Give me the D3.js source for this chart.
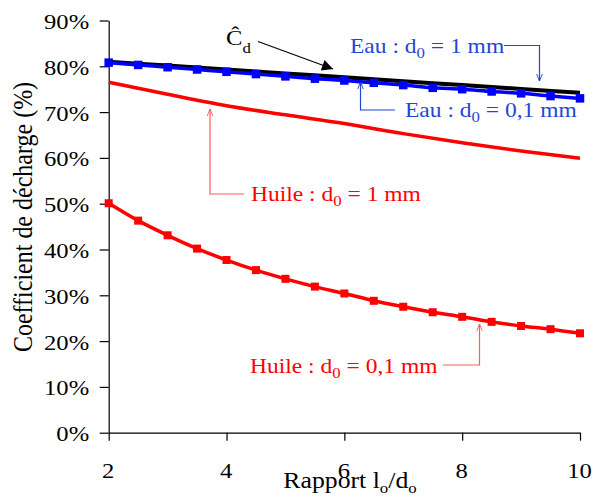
<!DOCTYPE html>
<html><head><meta charset="utf-8">
<script src="https://cdn.jsdelivr.net/npm/d3@7"></script>
<style>
html,body{margin:0;padding:0;background:#fff;}
svg{display:block;}
</style></head>
<body>
<svg id="c" width="594" height="501"></svg>
<script>
// ---- data ----
const xMarkers = [2,2.5,3,3.5,4,4.5,5,5.5,6,6.5,7,7.5,8,8.5,9,9.5,10];
const eau01 = [80.8,80.3,79.8,79.3,78.8,78.3,77.8,77.3,76.9,76.4,75.9,75.3,75.0,74.5,74.1,73.5,73.0];
const huile01 = [50.1,46.3,43.1,40.2,37.7,35.5,33.6,31.9,30.4,28.8,27.5,26.3,25.3,24.2,23.3,22.6,21.7];
const xLines = [2,3,4,5,6,7,8,9,10];
const cdHat = [81.0,80.15,79.3,78.45,77.6,76.75,75.9,75.05,74.2];
const huile1 = [76.5,73.9,71.4,69.4,67.5,65.3,63.3,61.5,59.9];
const xTicks = [2,4,6,8,10];
const yTicks = [0,10,20,30,40,50,60,70,80,90];

// pick an installed Times-like font
function pickFont(cands){
  const c = document.createElement("canvas").getContext("2d");
  const probe = "Coefficient de décharge 0123456789%";
  c.font = "20px monospace"; const base = c.measureText(probe).width;
  for (const f of cands){ c.font = `20px "${f}", monospace`; if (Math.abs(c.measureText(probe).width-base)>0.5) return `"${f}", serif`; }
  return "serif";
}
const FONT = pickFont(["Liberation Serif","Times New Roman","Times","Nimbus Roman","Tinos","DejaVu Serif"]);

const SX = 1.12; // horizontal text stretch of the reference
const svg = d3.select("#c").style("font-family",FONT);
const x = d3.scaleLinear().domain([2,10]).range([108.7,580]);
const y = d3.scaleLinear().domain([0,90]).range([432.7,20.5]);

// axes
const gy = svg.append("g").attr("transform",`translate(${x(2)},0)`)
  .call(d3.axisLeft(y).tickValues(yTicks).tickSize(9).tickSizeOuter(0).tickFormat(d=>d+"%"));
const gx = svg.append("g").attr("transform",`translate(0,${y(0)})`)
  .call(d3.axisBottom(x).tickValues(xTicks).tickSize(8).tickSizeOuter(0).tickFormat(d3.format("d")));
[gx,gy].forEach(g=>{
  g.attr("font-family",null).attr("font-size",null);
  g.selectAll("path,line").attr("stroke","#000").attr("stroke-width",1.2);
  g.selectAll("text").attr("fill","#000").style("font-family",FONT);
});
gy.selectAll(".tick text").attr("x",null).attr("dy",null)
  .style("font-size","22px").attr("text-anchor","end")
  .attr("transform",`translate(-19.5,8) scale(${SX},1)`);
gx.selectAll(".tick text").attr("y",null).attr("dy",null)
  .style("font-size","22px").attr("text-anchor","middle")
  .attr("transform",`translate(-1,45.5) scale(${SX},1)`);

// lines
const lineM = (xs)=>d3.line().x((d,i)=>x(xs[i])).y(d=>y(d)).curve(d3.curveMonotoneX);
svg.append("path").datum(cdHat).attr("d",lineM(xLines)).attr("fill","none").attr("stroke","#000").attr("stroke-width",4);
svg.append("path").datum(eau01).attr("d",lineM(xMarkers)).attr("fill","none").attr("stroke","#0000ff").attr("stroke-width",3.5);
svg.append("path").datum(huile1).attr("d",lineM(xLines)).attr("fill","none").attr("stroke","#ff0000").attr("stroke-width",3.5);
svg.append("path").datum(huile01).attr("d",lineM(xMarkers)).attr("fill","none").attr("stroke","#ff0000").attr("stroke-width",3.5);
const msB = 8.5, msR = 8;
svg.append("g").selectAll("rect").data(eau01).join("rect")
  .attr("x",(d,i)=>x(xMarkers[i])-msB/2).attr("y",d=>y(d)-msB/2).attr("width",msB).attr("height",msB).attr("fill","#0000ff");
svg.append("g").selectAll("rect").data(huile01).join("rect")
  .attr("x",(d,i)=>x(xMarkers[i])-msR/2).attr("y",d=>y(d)-msR/2).attr("width",msR).attr("height",msR).attr("fill","#ff0000");

// axis titles
svg.append("text").attr("text-anchor","middle").style("font-size","24px")
  .attr("transform",`translate(32,217) scale(${SX},1) rotate(-90)`)
  .text("Coefficient de décharge (%)");
const xt = svg.append("text").attr("text-anchor","middle").style("font-size","23px")
  .attr("transform",`translate(350,488) scale(${SX},1)`);
xt.append("tspan").text("Rapport l");
xt.append("tspan").attr("dy",5).style("font-size","15px").text("o");
xt.append("tspan").attr("dy",-5).text("/d");
xt.append("tspan").attr("dy",5).style("font-size","15px").text("o");

// defs: arrowheads
const defs = svg.append("defs");
function openArrow(id,color){
  defs.append("marker").attr("id",id).attr("viewBox","0 0 10 10").attr("refX",10).attr("refY",5)
    .attr("markerWidth",7).attr("markerHeight",7).attr("markerUnits","userSpaceOnUse").attr("orient","auto")
    .append("path").attr("d","M0,1 L10,5 L0,9").attr("fill","none").attr("stroke",color).attr("stroke-width",1.3);
}
openArrow("ab","#1a3fd0"); openArrow("ar","#ff5a5a");
defs.append("marker").attr("id","ak").attr("viewBox","0 0 10 10").attr("refX",10).attr("refY",5)
  .attr("markerWidth",14).attr("markerHeight",11).attr("markerUnits","userSpaceOnUse").attr("orient","auto")
  .append("path").attr("d","M0,0 L10,5 L0,10 Z").attr("fill","#000");

function label(xp,yp,parts,color,size){
  const t = svg.append("text").attr("transform",`translate(${xp},${yp}) scale(${SX},1)`)
    .style("font-size",size+"px").attr("fill",color);
  parts.forEach(p=>{
    t.append("tspan").attr("dy",p.sub? 5 : (p.after? -5:0)).style("font-size",p.sub? "15px":null).text(p.t);
  });
  return t;
}
function connector(pts,color,marker){
  svg.append("path").attr("d",d3.line()(pts)).attr("fill","none").attr("stroke",color)
    .attr("stroke-width",1.2).attr("marker-end",`url(#${marker})`);
}
const blueT = "#1f47d6", redT = "#ff0000";
const labParts = (fluid,dval)=>[{t:fluid+"  : d"},{t:"0",sub:true},{t:" = "+dval+" mm",after:true}];

// Cd hat
const ch = svg.append("text").attr("transform",`translate(226,45) scale(${SX},1)`).style("font-size","22px").attr("fill","#000");
ch.append("tspan").text("Ĉ");
ch.append("tspan").attr("dy",8).style("font-size","15px").text("d");
connector([[258,41.5],[333,69]],"#000","ak");

label(350,53,labParts("Eau","1"),blueT,21);
connector([[504,45.5],[539.5,45.5],[539.5,81]],blueT,"ab");

label(405,117,labParts("Eau","0,1"),blueT,21);
connector([[395,110],[360.5,110],[360.5,82]],blueT,"ab");

label(251,201,labParts("Huile","1"),redT,21);
connector([[244,194],[210,194],[210,109]],"#ff5a5a","ar");

label(250,373,labParts("Huile","0,1"),redT,21);
connector([[443,365],[479.5,365],[479.5,324]],"#ff5a5a","ar");
</script>
</body></html>
